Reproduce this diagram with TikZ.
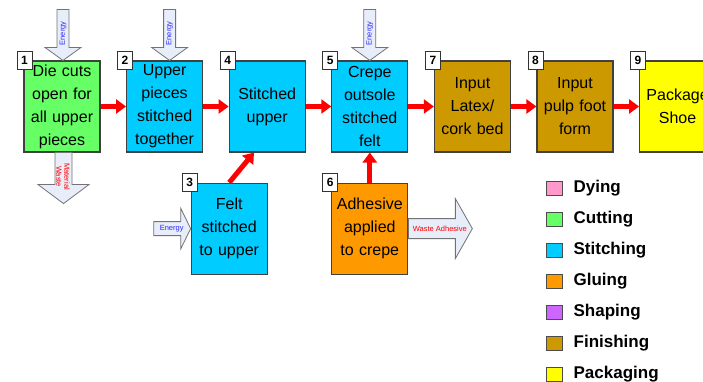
\documentclass[tikz,border=0pt]{standalone}
\usepackage{fontspec}
\setmainfont{Liberation Sans}
\usetikzlibrary{arrows.meta, positioning, calc}
\definecolor{dyepink}{RGB}{255,153,204}
\definecolor{cutgreen}{RGB}{102,255,102}
\definecolor{stitchblue}{RGB}{0,204,255}
\definecolor{glueorange}{RGB}{255,153,0}
\definecolor{shapepurple}{RGB}{204,102,255}
\definecolor{finishbrown}{RGB}{204,153,0}
\definecolor{packyellow}{RGB}{255,255,0}
\definecolor{fatfill}{RGB}{232,237,250}
\definecolor{energyblue}{RGB}{40,40,255}
\tikzset{
  %% ---- process boxes ----
  stage/.style   = {rectangle, draw=black!75, line width=1.1pt,
                    fill=#1, text width=72pt, align=center, inner sep=2pt,
                    minimum width=76pt, minimum height=91pt,
                    font=\fontsize{16}{23}\selectfont},
  stage/.default = stitchblue,
  numtag/.style  = {rectangle, draw=black!80, line width=0.8pt, fill=white,
                    minimum width=15pt, minimum height=18pt, inner sep=0pt,
                    font=\fontsize{12}{12}\selectfont\bfseries},
  %% ---- legend ----
  keybox/.style  = {rectangle, draw=black!70, line width=0.9pt, fill=#1,
                    minimum width=16pt, minimum height=14pt, inner sep=0pt},
  keytext/.style = {inner sep=0pt, text height=12pt, text depth=3.5pt,
                    font=\fontsize{17}{17}\selectfont\bfseries},
  %% ---- arrows ----
  flow/.style    = {-{Triangle[length=10pt,width=14pt]}, line width=5pt, draw=red},
  fatarrow/.style= {draw=black!55, line width=0.8pt, fill=fatfill, line join=miter},
  energytxt/.style={inner sep=0pt, text=energyblue, font=\fontsize{7.5}{8}\selectfont},
  wastetxt/.style= {inner sep=0pt, text=red, align=center, font=\fontsize{7.5}{8}\selectfont},
}

\begin{document}
\begin{tikzpicture}[x=1pt, y=1pt, node distance=25.5pt]
\useasboundingbox (0,0) rectangle (703,381);
\clip (0,0) rectangle (703,381);
%% main row
\node[stage=cutgreen]                  (b1) at (62,274.5) {Die cuts\\open for\\all upper\\pieces};
\node[stage, right=of b1]              (b2) {Upper\\pieces\\stitched\\together};
\node[stage, right=of b2]              (b4) {Stitched\\upper};
\node[stage, right=of b4]              (b5) {Crepe\\outsole\\stitched\\felt};
\node[stage=finishbrown, right=of b5]  (b7) {Input\\Latex/\\cork bed};
\node[stage=finishbrown, right=of b7]  (b8) {Input\\pulp foot\\form};
\node[stage=packyellow, right=of b8]   (b9) {Package\\Shoe};
%% lower row
\node[stage, below=30pt of b4, xshift=-38pt] (b3) {Felt\\stitched\\to upper};
\node[stage=glueorange, below=30pt of b5]   (b6) {Adhesive\\applied\\to crepe};
%% step numbers
\node[numtag] (n1) at ($(b1.north west)+(1,0)$) {1};
\node[numtag] (n2) at ($(b2.north west)+(-1,0)$) {2};
\node[numtag] (n3) at ($(b3.north west)+(-1,0)$) {3};
\node[numtag] (n4) at ($(b4.north west)+(-1,0)$) {4};
\node[numtag] (n5) at ($(b5.north west)+(-1,0)$) {5};
\node[numtag] (n6) at ($(b6.north west)+(-1,0)$) {6};
\node[numtag] (n7) at ($(b7.north west)+(-1,0)$) {7};
\node[numtag] (n8) at ($(b8.north west)+(-1,0)$) {8};
\node[numtag] (n9) at ($(b9.north west)+(-1,0)$) {9};
%% flow
\draw[flow] (b1) -- (b2); \draw[flow] (b2) -- (b4); \draw[flow] (b4) -- (b5);
\draw[flow] (b5) -- (b7); \draw[flow] (b7) -- (b8); \draw[flow] (b8) -- (b9);
\draw[flow] (b3.north) -- (b4.-106);
\draw[flow] (b6) -- (b5);
%% energy in / waste out
\coordinate (e1) at ($(b1.north)+(1,0)$);
\coordinate (e2) at ($(b2.north)+(5,0)$);
\coordinate (e5) at ($(b5.north)+(0,0)$);
\foreach \e in {e1,e2,e5}{
  \draw[fatarrow] (\e) -- ++(-18,13) -- ++(12,0) -- ++(0,38) -- ++(12,0)
                  -- ++(0,-38) -- ++(12,0) -- cycle;
  \node[energytxt, rotate=90] at ($(\e)+(0,27)$) {Energy};
}
\coordinate (e3) at (b3.west);
\draw[fatarrow] (e3) -- ++(-10,20.5) -- ++(0,-13.5) -- ++(-27,0) -- ++(0,-14)
                -- ++(27,0) -- ++(0,-13.5) -- cycle;
\node[energytxt] (t3) at ($(e3)+(-19,0)$) {Energy};
\coordinate (w1) at ($(b1.south)+(1.5,-51)$);
\draw[fatarrow] (w1) -- ++(-25.5,19) -- ++(17,0) -- ++(0,32) -- ++(17,0)
                -- ++(0,-32) -- ++(17,0) -- cycle;
\node[wastetxt, rotate=-90] (t1) at ($(b1.south)+(1,-24)$) {Material\\Waste};
\coordinate (w6) at ($(b6.east)+(64,0)$);
\draw[fatarrow] (w6) -- ++(-17,30) -- ++(0,-20) -- ++(-47,0) -- ++(0,-20)
                -- ++(47,0) -- ++(0,-20) -- cycle;
\node[wastetxt] (t6) at ($(b6.east)+(31.5,0)$) {Waste Adhesive};
%% legend
\node[keybox=dyepink]                  (k1) at (554,193) {};
\node[keybox=cutgreen,    below=16.2pt of k1] (k2) {};
\node[keybox=stitchblue,  below=16.2pt of k2] (k3) {};
\node[keybox=glueorange,  below=16.2pt of k3] (k4) {};
\node[keybox=shapepurple, below=16.2pt of k4] (k5) {};
\node[keybox=finishbrown, below=16.2pt of k5] (k6) {};
\node[keybox=packyellow,  below=16.2pt of k6] (k7) {};
\node[keytext, right=11pt of k1] (l1) {Dying};
\node[keytext, right=11pt of k2] (l2) {Cutting};
\node[keytext, right=11pt of k3] (l3) {Stitching};
\node[keytext, right=11pt of k4] (l4) {Gluing};
\node[keytext, right=11pt of k5] (l5) {Shaping};
\node[keytext, right=11pt of k6] (l6) {Finishing};
\node[keytext, right=11pt of k7] (l7) {Packaging};
\end{tikzpicture}
\end{document}
